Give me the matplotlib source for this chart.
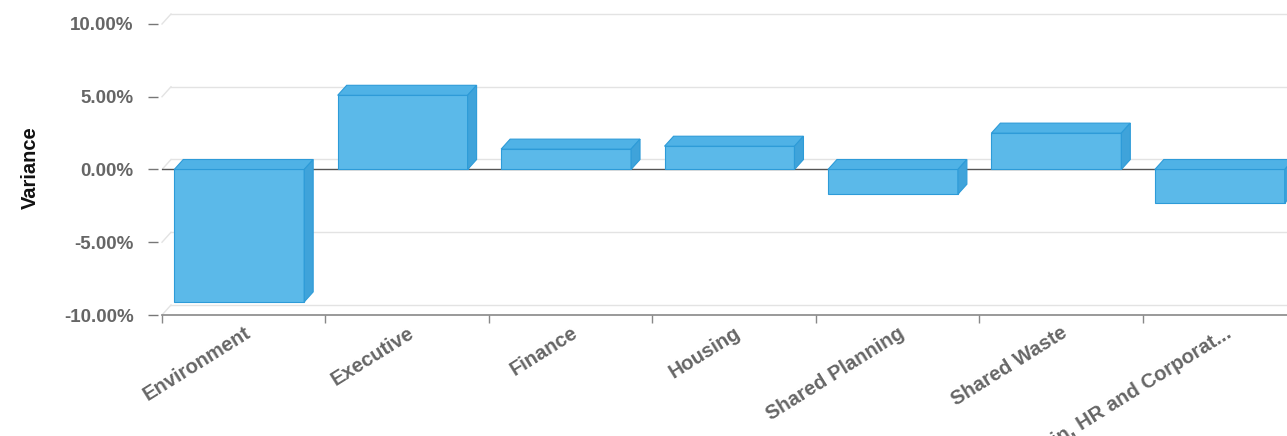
import matplotlib
matplotlib.use("Agg")
from matplotlib import pyplot as plt
from matplotlib.patches import Polygon
import numpy as np

plt.rcParams['font.family'] = ['Liberation Sans', 'DejaVu Sans']

departments = ["Environment", "Executive", "Finance", "Housing",
               "Shared Planning", "Shared Waste", "Shared Admin, HR and Corporat..."]
variance = [-9.1, 5.1, 1.4, 1.6, -1.7, 2.5, -2.3]
y_ticks = [-10, -5, 0, 5, 10]

front_col = "#5bb9e9"
edge_col = "#2d9bd8"
top_col = "#4fb2e6"
side_col = "#3fa3da"

fig = plt.figure(figsize=(12.87, 4.36), dpi=100)
ax = fig.add_axes([162 / 1287, 121 / 436, 1144 / 1287, 291 / 436])
ax.set_xlim(-0.5, len(departments) - 0.5)
ax.set_ylim(-10, 10)

# 3d depth in data units (about 9px right, 10px up)
dx = 9 / 163.4
dy = 10 / 14.55

# back wall grid lines
for v in y_ticks:
    col = "#e3e3e3"
    ax.plot([-0.5, -0.5 + dx], [v, v + dy], color=col, lw=1, zorder=1, clip_on=False)
    ax.plot([-0.5 + dx, len(departments) - 0.5], [v + dy, v + dy], color=col, lw=1,
            zorder=1, clip_on=False)

ax.axhline(0, color="#555555", lw=1, zorder=2)

width = 0.795
x = np.arange(len(departments)) - dx / 2
for xi, v in zip(x, variance):
    x0, x1 = xi - width / 2, xi + width / 2
    hi = max(v, 0)
    lo = min(v, 0)
    # faint shadow
    ax.bar(xi + 0.012, v, width, bottom=0, color="#000000", alpha=0.08, zorder=2.5,
           linewidth=0)
    ax.bar(xi, v, width, color=front_col, edgecolor=edge_col, lw=0.8, zorder=3)
    top = [(x0, hi), (x0 + dx, hi + dy), (x1 + dx, hi + dy), (x1, hi)]
    side = [(x1, hi), (x1 + dx, hi + dy), (x1 + dx, lo + dy), (x1, lo)]
    ax.add_patch(Polygon(top, closed=True, facecolor=top_col, edgecolor=edge_col,
                         lw=0.8, zorder=3))
    ax.add_patch(Polygon(side, closed=True, facecolor=side_col, edgecolor=edge_col,
                         lw=0.8, zorder=3))

for s in ["top", "right", "left"]:
    ax.spines[s].set_visible(False)
ax.spines["left"].set_position(("outward", 3))
ax.spines["bottom"].set_color("#888888")
ax.spines["bottom"].set_linewidth(1.2)

ax.set_yticks(y_ticks)
ax.set_yticklabels([f"{v:.2f}%" for v in y_ticks], fontsize=13.5, fontweight="bold",
                   color="#666666")
ax.tick_params(axis="y", length=7.5, width=1, color="#777777", pad=10)

ax.set_xticks(np.arange(len(departments) + 1) - 0.5)
ax.set_xticklabels([])
ax.tick_params(axis="x", which="major", length=6, width=1, color="#888888")
ax.set_xticks(np.arange(len(departments)), minor=True)
ax.set_xticklabels(departments, minor=True, rotation=32, ha="right",
                   rotation_mode="anchor", fontsize=14.5, fontweight="bold",
                   color="#666666")
ax.tick_params(axis="x", which="minor", length=0, pad=6)

fig.text(30 / 1287, 1 - 168 / 436, "Variance", rotation=90, ha="center", va="center",
         fontsize=14.5, fontweight="bold", color="#111111")

fig.savefig("out.png", dpi=100)
